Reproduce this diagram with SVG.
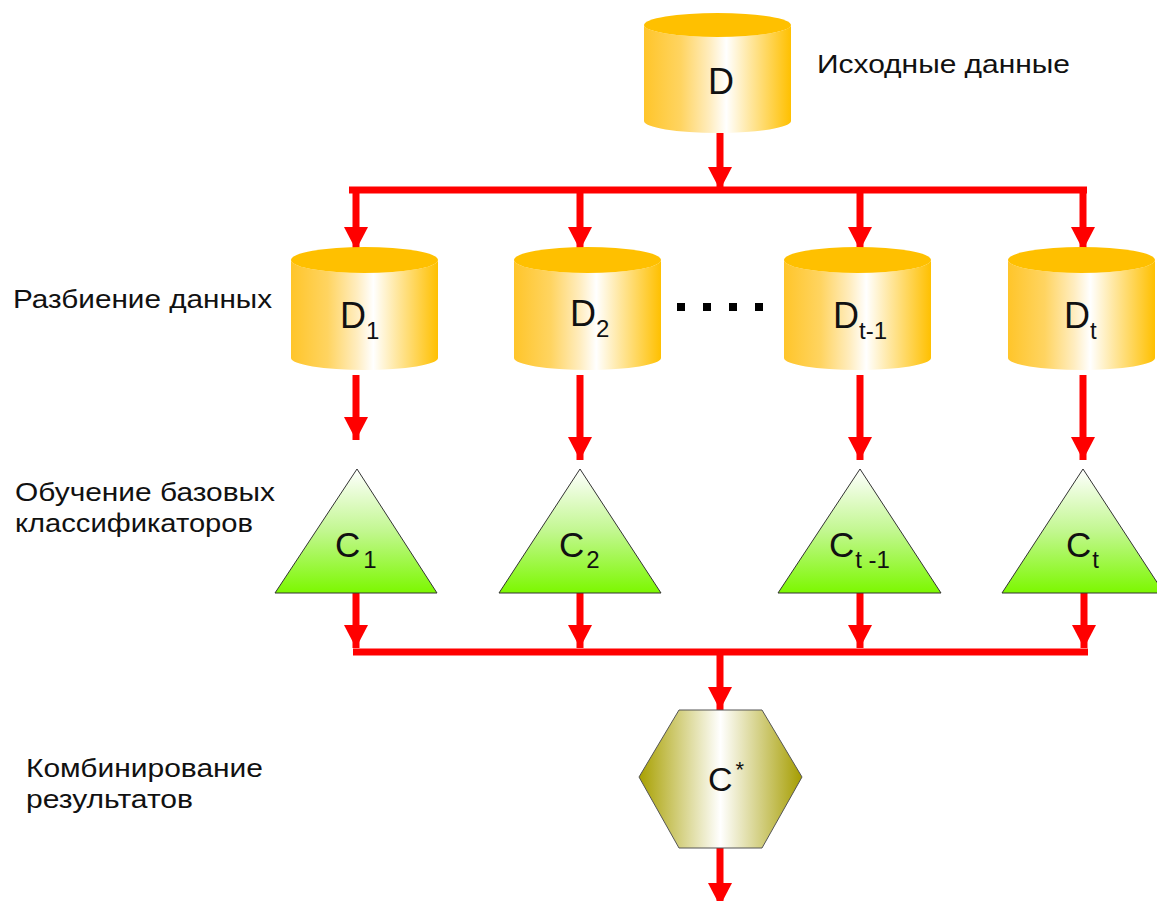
<svg xmlns="http://www.w3.org/2000/svg" width="1157" height="901" viewBox="0 0 1157 901">
<style>
.lbl{font-family:"Liberation Sans",Arial,sans-serif;font-size:26px;fill:#111}
.sym{font-family:"Liberation Sans",Arial,sans-serif;fill:#111}
.cyl{fill:url(#gCyl)}
.cylTop{fill:#FFC000}
.tri{fill:url(#gTri);stroke:#333;stroke-width:1}
.hex{fill:url(#gHex);stroke:#555;stroke-width:1}
.con{fill:none;stroke:#FF0000;stroke-width:7;stroke-linecap:butt}
.arr{marker-end:url(#ah)}
</style>
<defs>
<linearGradient id="gCyl" x1="0" y1="0" x2="1" y2="0">
<stop offset="0" stop-color="#FFC52A"/>
<stop offset="0.25" stop-color="#FFD461"/>
<stop offset="0.45" stop-color="#FFEDC0"/>
<stop offset="0.56" stop-color="#FFFFFF"/>
<stop offset="0.72" stop-color="#FFE7A0"/>
<stop offset="1" stop-color="#FFC000"/>
</linearGradient>
<linearGradient id="gTri" x1="0" y1="0" x2="0" y2="1">
<stop offset="0" stop-color="#FFFFFF"/>
<stop offset="0.5" stop-color="#C2F790"/>
<stop offset="1" stop-color="#7CF800"/>
</linearGradient>
<linearGradient id="gHex" x1="0" y1="0" x2="1" y2="0">
<stop offset="0" stop-color="#A8A000"/>
<stop offset="0.5" stop-color="#FFFFFF"/>
<stop offset="1" stop-color="#A59D00"/>
</linearGradient>
<marker id="ah" viewBox="0 0 23 24" refX="23" refY="12" markerWidth="23" markerHeight="24" markerUnits="userSpaceOnUse" orient="auto">
<path d="M0,0 L23,12 L0,24 Z" fill="#FF0000"/>
</marker>
</defs>

<g id="connectors">
<path class="con arr" d="M720,133 V190"/>
<path class="con" d="M349,190 H1087"/>
<path class="con arr" d="M356,190 V250"/>
<path class="con arr" d="M580,190 V250"/>
<path class="con arr" d="M860,190 V250"/>
<path class="con arr" d="M1083,190 V250"/>
<path class="con arr" d="M356,375 V440"/>
<path class="con arr" d="M580,375 V460"/>
<path class="con arr" d="M860,375 V460"/>
<path class="con arr" d="M1083,375 V460"/>
<path class="con arr" d="M356,593 V648"/>
<path class="con arr" d="M580,593 V648"/>
<path class="con arr" d="M860,593 V648"/>
<path class="con arr" d="M1084,593 V648"/>
<path class="con" d="M353,652 H1088"/>
<path class="con arr" d="M720,652 V710"/>
<path class="con arr" d="M720,848 V906"/>
</g>

<g id="node-D">
<path class="cyl" d="M644,25 A73.5,12 0 0 0 791,25 V121 A73.5,12 0 0 1 644,121 Z"/>
<ellipse class="cylTop" cx="717.5" cy="25" rx="73.5" ry="12"/>
<text class="sym" x="708" y="94" font-size="36">D</text>
</g>

<g id="node-D1">
<path class="cyl" d="M291,260 A73.5,13 0 0 0 438,260 V358 A73.5,12 0 0 1 291,358 Z"/>
<ellipse class="cylTop" cx="364.5" cy="260" rx="73.5" ry="13"/>
<text class="sym" x="340" y="328" font-size="36">D<tspan dy="11" font-size="24">1</tspan></text>
</g>

<g id="node-D2">
<path class="cyl" d="M514,260 A73.5,13 0 0 0 661,260 V358 A73.5,12 0 0 1 514,358 Z"/>
<ellipse class="cylTop" cx="587.5" cy="260" rx="73.5" ry="13"/>
<text class="sym" x="570" y="326" font-size="36">D<tspan dy="11" font-size="24">2</tspan></text>
</g>

<g id="dots">
<rect x="677" y="303" width="8" height="8" fill="#000"/>
<rect x="703" y="303" width="8" height="8" fill="#000"/>
<rect x="729" y="303" width="8" height="8" fill="#000"/>
<rect x="755" y="303" width="8" height="8" fill="#000"/>
</g>

<g id="node-Dt-1">
<path class="cyl" d="M784,260 A73.5,13 0 0 0 931,260 V358 A73.5,12 0 0 1 784,358 Z"/>
<ellipse class="cylTop" cx="857.5" cy="260" rx="73.5" ry="13"/>
<text class="sym" x="833" y="328" font-size="36">D<tspan dy="11" font-size="24">t-1</tspan></text>
</g>

<g id="node-Dt">
<path class="cyl" d="M1008,260 A73.5,13 0 0 0 1155,260 V358 A73.5,12 0 0 1 1008,358 Z"/>
<ellipse class="cylTop" cx="1081.5" cy="260" rx="73.5" ry="13"/>
<text class="sym" x="1064" y="328" font-size="36">D<tspan dy="11" font-size="24">t</tspan></text>
</g>

<g id="node-C1">
<polygon class="tri" points="357,469 437,593 275,593"/>
<text class="sym" x="335" y="557" font-size="35">C<tspan dx="3" dy="11" font-size="24">1</tspan></text>
</g>

<g id="node-C2">
<polygon class="tri" points="580,469 661,593 499,593"/>
<text class="sym" x="559" y="557" font-size="35">C<tspan dx="2" dy="11" font-size="24">2</tspan></text>
</g>

<g id="node-Ct-1">
<polygon class="tri" points="860,469 941,593 778,593"/>
<text class="sym" x="829" y="557" font-size="35">C<tspan dx="1" dy="11" font-size="24">t -1</tspan></text>
</g>

<g id="node-Ct">
<polygon class="tri" points="1083,469 1164,593 1002,593"/>
<text class="sym" x="1066" y="557" font-size="35">C<tspan dx="1" dy="11" font-size="24">t</tspan></text>
</g>

<g id="node-Cstar">
<polygon class="hex" points="679,710 762,710 802,777 762,848 679,848 639,777"/>
<text class="sym" x="708" y="791" font-size="34">C<tspan dx="3" dy="-14" font-size="22">*</tspan></text>
</g>

<g id="labels">
<text class="lbl" x="817" y="73" textLength="253" lengthAdjust="spacingAndGlyphs">Исходные данные</text>
<text class="lbl" x="13" y="308" textLength="259" lengthAdjust="spacingAndGlyphs">Разбиение данных</text>
<text class="lbl"><tspan x="15" y="501" textLength="260" lengthAdjust="spacingAndGlyphs">Обучение базовых</tspan><tspan x="15" y="532" textLength="238" lengthAdjust="spacingAndGlyphs">классификаторов</tspan></text>
<text class="lbl"><tspan x="26" y="777" textLength="237" lengthAdjust="spacingAndGlyphs">Комбинирование</tspan><tspan x="26" y="808" textLength="167" lengthAdjust="spacingAndGlyphs">результатов</tspan></text>
</g>
</svg>
